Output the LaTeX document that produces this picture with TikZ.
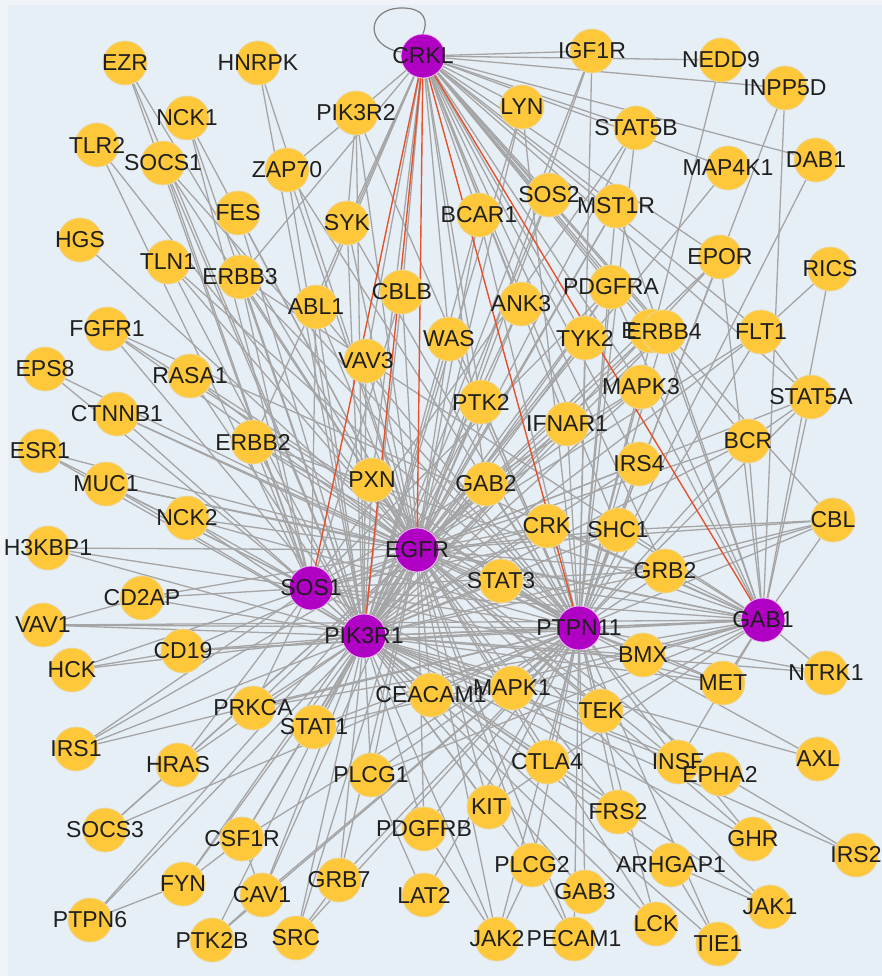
\documentclass[tikz,border=0pt]{standalone}
\usepackage{fontspec}
\setmainfont{Liberation Sans}
\usetikzlibrary{positioning}
\pgfdeclarelayer{back}
\pgfdeclarelayer{links}
\pgfsetlayers{back,links,main}
\definecolor{bgblue}{RGB}{231,239,246}
\definecolor{bgrim}{RGB}{240,244,248}
\definecolor{geneyellow}{RGB}{255,200,58}
\definecolor{generim}{RGB}{232,214,160}
\definecolor{hubpurple}{RGB}{176,0,196}
\definecolor{hubrim}{RGB}{235,190,240}
\definecolor{linkgray}{RGB}{165,165,165}
\definecolor{linkred}{RGB}{228,82,44}

\begin{document}
\begin{tikzpicture}[x=1pt,y=-1pt]
      \tikzstyle{gene}=[circle,minimum size=44pt,inner sep=0pt,fill=geneyellow,draw=generim,line width=0.8pt]
      \tikzstyle{hub}=[gene,fill=hubpurple,draw=hubrim]
      \tikzstyle{tag}=[font=\fontsize{23}{23}\selectfont,text=black!88,inner sep=0pt]
      \tikzstyle{link}=[draw=linkgray,line width=1.3pt]
      \tikzstyle{redlink}=[draw=linkred,line width=1.4pt]
      \useasboundingbox (0,0) rectangle (882,976);
      % Background
      \begin{pgfonlayer}{back}
        \fill[bgrim] (0,0) rectangle (882,976);
        \fill[bgblue] (8,5) rectangle (882,976);
      \end{pgfonlayer}
      % Hidden node under ERBB4
      \node[gene,label={[tag,xshift=-22pt]center:E}] (EHID) at (651,331) {};
      % Gene nodes
      \foreach \n/\x/\y in {EZR/125/63, HNRPK/258/63, NCK1/187/118, SOCS1/163/163, TLR2/97/145,
        ZAP70/287/170, FES/238/213, HGS/80/240, PIK3R2/356/113, LYN/522/107, IGF1R/592/51,
        NEDD9/721/60, INPP5D/785/88, STAT5B/636/128, MAP4K1/728/168, DAB1/816/160, SYK/347/223,
        BCAR1/479/215, SOS2/549/195, MST1R/616/206, TLN1/168/262, ERBB3/240/277, CBLB/402/292,
        ANK3/521/304, PDGFRA/611/287, EPOR/720/257, RICS/830/269, FGFR1/107/329, ABL1/316/307,
        WAS/449/339, TYK2/585/338, ERBB4/664/332, FLT1/761/332, EPS8/45/369, RASA1/190/376,
        VAV3/366/361, MAPK3/641/387, STAT5A/811/397, CTNNB1/117/414, PTK2/481/402, IFNAR1/567/424,
        ERBB2/253/442, BCR/748/441, ESR1/40/451, MUC1/106/484, PXN/372/480, GAB2/486/484,
        IRS4/639/464, NCK2/187/518, CRK/547/526, SHC1/618/530, CBL/833/520, H3KBP1/48/548,
        STAT3/501/581, GRB2/665/571, CD2AP/142/598, VAV1/43/625, HCK/72/670, CD19/183/651,
        BMX/643/655, MET/723/683, NTRK1/826/673, PRKCA/253/708, CEACAM1/431/695, MAPK1/512/688,
        TEK/601/711, STAT1/314/727, IRS1/76/749, HRAS/178/765, PLCG1/371/775, CTLA4/547/762,
        INSF/678/762, EPHA2/720/774, AXL/818/759, KIT/489/807, FRS2/618/812, SOCS3/105/830,
        PDGFRB/424/829, CSF1R/242/839, GHR/753/839, IRS2/856/855, PLCG2/532/865, ARHGAP1/671/865,
        GRB7/339/880, FYN/183/884, LAT2/424/895, GAB3/585/892, CAV1/262/895, JAK1/770/907,
        PTPN6/90/920, LCK/656/924, PTK2B/212/940, SRC/296/938, JAK2/497/939, PECAM1/574/939,
        TIE1/718/944}
        \node[gene,label={[tag]center:\n}] (\n) at (\x,\y) {};
      % Hub nodes
      \foreach \n/\x/\y in {CRKL/423/56, EGFR/417/550, SOS1/311/588, PIK3R1/364/636,
        PTPN11/579/628, GAB1/763/620}
        \node[hub,label={[tag]center:\n}] (\n) at (\x,\y) {};
      % Interactions
      \begin{pgfonlayer}{links}
        \foreach \g/\nbrs in {
          EZR/{SOS1,PIK3R1,EGFR}, HNRPK/{EGFR,PIK3R1}, NCK1/{EGFR,SOS1,PIK3R1},
          TLR2/{EGFR,SOS1}, SOCS1/{EGFR,SOS1,PIK3R1,PTPN11}, ZAP70/{PIK3R2,EGFR,PIK3R1,PTPN11},
          FES/{EGFR,PIK3R1}, HGS/{EGFR}, TLN1/{EGFR,PIK3R1,PTPN11},
          ERBB3/{EGFR,PIK3R1,SOS1,PTPN11,GAB1,CRKL}, PIK3R2/{CRKL,SYK,EGFR,PIK3R1,PTPN11},
          SYK/{CRKL,EGFR,PIK3R1,PTPN11}, ABL1/{CRKL,EGFR,PIK3R1,SOS1,PTPN11},
          FGFR1/{EGFR,PIK3R1,PTPN11,GAB1}, EPS8/{EGFR,SOS1}, RASA1/{EGFR,PIK3R1,PTPN11},
          CTNNB1/{EGFR,PTPN11,PIK3R1}, ESR1/{EGFR,SOS1,PIK3R1}, MUC1/{EGFR,SOS1,PIK3R1,GAB1},
          ERBB2/{EGFR,PIK3R1,SOS1,PTPN11,GAB1,CRKL}, NCK2/{EGFR,SOS1,PIK3R1,PTPN11},
          H3KBP1/{SOS1,PIK3R1,EGFR}, CD2AP/{SOS1,PIK3R1,EGFR,VAV1}, VAV1/{PIK3R1,PTPN11,GAB1},
          HCK/{CD19,SOS1,PIK3R1}, CD19/{PIK3R1,EGFR,PTPN11,GAB1},
          PRKCA/{EGFR,SOS1,PIK3R1,PTPN11,GAB1}, STAT1/{EGFR,PIK3R1,PTPN11,GAB1},
          IRS1/{EGFR,SOS1,PIK3R1,PTPN11}, HRAS/{SOS1,PIK3R1,EGFR,SOCS3},
          SOCS3/{EGFR,PTPN11}, CSF1R/{PIK3R1,PTPN11,EGFR,FYN,CAV1}, FYN/{PIK3R1,EGFR,PTPN6},
          PTPN6/{EGFR,PIK3R1}, CAV1/{EGFR,PIK3R1,PTPN11,PTK2B}, PTK2B/{PIK3R1,PTPN11},
          SRC/{EGFR,PIK3R1,PTPN11,GRB7}, GRB7/{EGFR,PIK3R1,PTPN11},
          PLCG1/{EGFR,PIK3R1,PTPN11,GAB1,LAT2}, PDGFRB/{PIK3R1,PTPN11,EGFR,JAK2},
          LAT2/{PTPN11}, KIT/{PIK3R1,EGFR,PTPN11,GAB1}, JAK2/{PLCG2,PTPN11,EGFR,PIK3R1},
          PLCG2/{EGFR,PIK3R1,PTPN11}, PECAM1/{PTPN11,EGFR,PLCG2}, GAB3/{PTPN11,PIK3R1},
          LCK/{PTPN11,PIK3R1,EGFR}, TIE1/{ARHGAP1,PTPN11,PIK3R1}, ARHGAP1/{PIK3R1,JAK1},
          JAK1/{PIK3R1,EGFR}, FRS2/{PIK3R1,EGFR,PTPN11}, GHR/{PIK3R1,PTPN11,EGFR},
          IRS2/{PIK3R1,EPHA2}, EPHA2/{PIK3R1,EGFR}, INSF/{PIK3R1,EGFR,PTPN11,GAB1},
          AXL/{PIK3R1,PTPN11}, CTLA4/{PIK3R1,PTPN11,EGFR}, TEK/{PIK3R1,PTPN11,EGFR,GAB1},
          MAPK1/{EGFR,PIK3R1,PTPN11,GAB1,SOS1}, CEACAM1/{PIK3R1,PTPN11,EGFR},
          MET/{GAB1,PIK3R1,PTPN11,EGFR,SOS1}, NTRK1/{GAB1,PTPN11,PIK3R1},
          BMX/{PTPN11,PIK3R1,GAB1}, GRB2/{CRKL,EGFR,SOS1,PTPN11,GAB1,PIK3R1},
          SHC1/{CRKL,EGFR,SOS1,PTPN11,GAB1,PIK3R1}, CBL/{CRKL,EGFR,GRB2,SHC1,GAB1,PTPN11,PIK3R1},
          STAT3/{EGFR,PTPN11,GAB1,PIK3R1}, CRK/{EGFR,PIK3R1,PTPN11,GAB1,SOS1},
          GAB2/{CRKL,EGFR,PTPN11,PIK3R1}, PXN/{CRKL,PIK3R1,PTPN11,EGFR},
          IRS4/{CRKL,PIK3R1,PTPN11,EGFR}, IFNAR1/{CRKL,PTPN11,PIK3R1,EGFR},
          PTK2/{CRKL,PIK3R1,EGFR,PTPN11}, BCR/{CRKL,GAB1,EGFR,PTPN11,STAT5A,PIK3R1},
          STAT5A/{CRKL,FLT1,GAB1,PTPN11,EGFR}, MAPK3/{CRKL,EGFR,GAB1,PTPN11,PIK3R1,SOS1},
          FLT1/{CRKL,RICS,PIK3R1,PTPN11,EGFR}, RICS/{GAB1}, EPOR/{CRKL,PIK3R1,PTPN11,GAB1,EGFR},
          TYK2/{CRKL,PIK3R1,PTPN11,EGFR}, ERBB4/{CRKL,EGFR,PIK3R1,PTPN11,GAB1}, EHID/{CRKL,EGFR},
          PDGFRA/{CRKL,PIK3R1,PTPN11,EGFR,GAB1,SOS1}, ANK3/{CRKL,EGFR,PIK3R1},
          WAS/{CRKL,EGFR,PIK3R1,PTPN11}, CBLB/{CRKL,EGFR,PIK3R1,SOS1}, VAV3/{CRKL,EGFR,PIK3R1},
          MST1R/{CRKL,PIK3R1,PTPN11,GAB1,EGFR}, SOS2/{CRKL,EGFR,PIK3R1},
          BCAR1/{CRKL,EGFR,PIK3R1,PTPN11}, LYN/{CRKL,PIK3R1,EGFR,PTPN11},
          STAT5B/{CRKL,SOS1,PTPN11,EGFR}, MAP4K1/{CRKL,EGFR}, DAB1/{CRKL,PTPN11},
          INPP5D/{CRKL,PTPN11,GAB1}, NEDD9/{CRKL,PTPN11}, IGF1R/{CRKL,PIK3R1,PTPN11,EGFR},
          EGFR/{SOS1,PIK3R1,PTPN11,GAB1}, SOS1/{PIK3R1,PTPN11,GAB1}, PIK3R1/{PTPN11,GAB1},
          PTPN11/{GAB1}}
          \foreach \h in \nbrs \draw[link] (\g) -- (\h);
        % Highlighted CRKL links
        \foreach \h in {SOS1,PIK3R1,EGFR,PTPN11,GAB1}
          \draw[redlink] (CRKL) -- (\h);
        % Self loop
        \draw[link,line width=1.2pt,draw=black!50] (CRKL.170) .. controls (364,46) and (366,8) .. (402,8)
          .. controls (426,8) and (428,22) .. (CRKL.north);
      \end{pgfonlayer}
    \end{tikzpicture}
\end{document}
